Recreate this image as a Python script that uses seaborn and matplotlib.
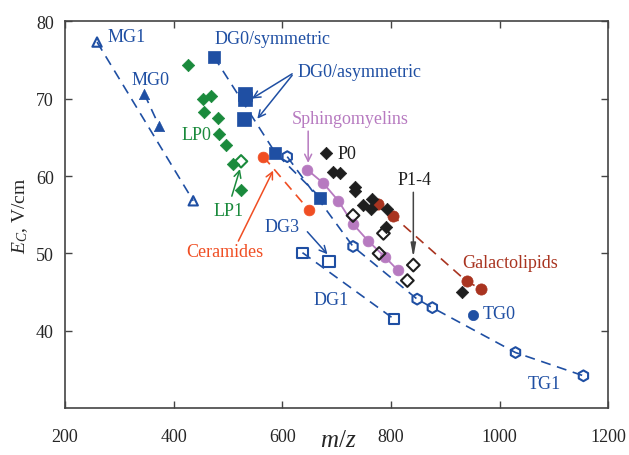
import matplotlib
matplotlib.use("Agg")
import matplotlib.pyplot as plt
import seaborn as sns
import numpy as np

# ---------------- data (m/z, E_C) ----------------
mg1_x = [259, 436]
mg1_y = [77.3, 56.8]
mg0_x = [346, 373]
mg0_y = [70.6, 66.5]
lp0_x = [427, 454, 469, 456, 482, 484, 497, 509, 524]
lp0_y = [74.3, 70.0, 70.3, 68.3, 67.5, 65.4, 64.0, 61.6, 58.2]
lp1_x = [524]
lp1_y = [61.9]
dg0sym_x = [474]
dg0sym_y = [75.4]
dg0asym_x = [531, 531, 530]
dg0asym_y = [70.6, 70.0, 67.4]
dg0_x = [587, 670]
dg0_y = [63.0, 57.2]
dg0line_x = [474, 587, 670]
dg0line_y = [75.4, 63.0, 57.2]
tg1_x = [609, 730, 848, 876, 1029, 1154]
tg1_y = [62.5, 50.9, 44.1, 43.0, 37.2, 34.2]
tg0_x = [950]
tg0_y = [42.1]
dg1_x = [637, 806]
dg1_y = [50.1, 41.5]
dg3_x = [686]
dg3_y = [49.0]
cer_x = [565, 649]
cer_y = [62.5, 55.6]
sph_x = [646, 675, 703, 730, 758, 788, 813]
sph_y = [60.8, 59.1, 56.8, 53.8, 51.6, 49.6, 47.8]
gal_x = [776, 804, 939, 966]
gal_y = [56.4, 54.8, 46.4, 45.4]
p0_x = [681, 694, 706, 734, 734, 749, 765, 764, 793, 791, 931]
p0_y = [63.0, 60.5, 60.4, 58.6, 58.1, 56.3, 57.0, 55.8, 55.8, 53.4, 45.0]
p14_x = [730, 786, 778, 841, 830]
p14_y = [54.9, 52.6, 50.0, 48.5, 46.5]

x_ticks = [200, 400, 600, 800, 1000, 1200]
y_ticks = [40, 50, 60, 70, 80]

BLUE = "#1f4fa3"
GREEN = "#1a8a3c"
ORANGE = "#f04e23"
PURPLE = "#b77ac0"
DRED = "#a93420"
BLACK = "#1e1e1e"

sns.set_style("ticks")
plt.rcParams["font.family"] = ["Liberation Serif", "DejaVu Serif"]
plt.rcParams["mathtext.fontset"] = "custom"
plt.rcParams["mathtext.rm"] = "Liberation Serif"
plt.rcParams["mathtext.it"] = "Liberation Serif:italic"

fig = plt.figure(figsize=(6.29, 4.56), dpi=100)
ax = fig.add_axes([0.1033, 0.1024, 0.864, 0.849])


def dline(x, y, c, ls=(0, (6, 4)), lw=1.2):
    sns.lineplot(x=x, y=y, sort=False, color=c, lw=lw, ax=ax, zorder=3,
                 estimator=None, linestyle="-")
    ax.lines[-1].set_linestyle(ls)


def pts(x, y, m, c, s, filled=True, lw=1.5):
    if filled:
        sns.scatterplot(x=x, y=y, marker=m, s=s, color=c, edgecolor=c,
                        linewidth=0.5, ax=ax, zorder=4)
    else:
        sns.scatterplot(x=x, y=y, marker=m, s=s, color=c, facecolor="none",
                        edgecolor=c, linewidth=lw, ax=ax, zorder=4)


# lines
dline(mg1_x, mg1_y, BLUE)
dline(mg0_x, mg0_y, BLUE)
dline(dg0line_x, dg0line_y, BLUE)
dline(tg1_x, tg1_y, BLUE)
dline(dg1_x, dg1_y, BLUE)
dline(cer_x, cer_y, ORANGE)
dline(sph_x, sph_y, PURPLE, ls="-", lw=1.3)
dline(gal_x, gal_y, DRED)

# markers
pts(mg1_x, mg1_y, "^", BLUE, 45, filled=False)
pts(mg0_x, mg0_y, "^", BLUE, 55)
pts(lp0_x, lp0_y, "D", GREEN, 40)
pts(lp1_x, lp1_y, "D", GREEN, 40, filled=False)
pts(dg0sym_x, dg0sym_y, "s", BLUE, 75)
pts(dg0asym_x, dg0asym_y, "s", BLUE, 95)
pts(dg0_x, dg0_y, "s", BLUE, 65)
pts(tg1_x, tg1_y, "h", BLUE, 60, filled=False)
pts(tg0_x, tg0_y, "o", BLUE, 55)
pts(dg1_x, dg1_y, "s", BLUE, 55, filled=False)
pts(dg3_x, dg3_y, "s", BLUE, 65, filled=False)
pts(cer_x, cer_y, "o", ORANGE, 60)
pts(sph_x, sph_y, "o", PURPLE, 60)
pts(gal_x, gal_y, "o", DRED, 65)
pts(p0_x, p0_y, "D", BLACK, 40)
pts(p14_x, p14_y, "D", BLACK, 42, filled=False)

# labels
fs = 13
def lab(x, y, t, c):
    ax.text(x, y, t, color=c, fontsize=fs, ha="left", va="center", zorder=6)

lab(279, 78.0, "MG1", BLUE)
lab(323, 72.5, "MG0", BLUE)
lab(476, 77.7, "DG0/symmetric", BLUE)
lab(627, 73.5, "DG0/asymmetric", BLUE)
lab(618, 67.4, "Sphingomyelins", PURPLE)
lab(701, 62.9, "P0", BLACK)
lab(811, 59.6, "P1-4", BLACK)
lab(415, 65.4, "LP0", GREEN)
lab(474, 55.6, "LP1", GREEN)
lab(423, 50.2, "Ceramides", ORANGE)
lab(568, 53.5, "DG3", BLUE)
lab(657, 44.1, "DG1", BLUE)
lab(968, 42.2, "TG0", BLUE)
lab(1051, 33.2, "TG1", BLUE)
lab(931, 48.8, "Galactolipids", DRED)

# arrows
def arr(x0, y0, x1, y1, c, style="->,head_length=0.5,head_width=0.25", lw=1.1):
    ax.annotate("", xy=(x1, y1), xytext=(x0, y0),
                arrowprops=dict(arrowstyle=style, color=c, lw=lw,
                                shrinkA=0, shrinkB=0), zorder=6)

arr(618, 73.2, 544, 70.0, BLUE)
arr(618, 73.0, 554, 67.4, BLUE)
arr(647.5, 65.8, 647.5, 61.7, PURPLE)
arr(841, 57.9, 841, 49.5, "#444444", style="-|>,head_length=0.8,head_width=0.15")
arr(507, 57.4, 522, 60.9, GREEN)
arr(519, 51.6, 583, 60.7, ORANGE)
arr(646, 52.8, 683, 49.9, BLUE)

ax.set_xlim(200, 1200)
ax.set_ylim(30, 80)
ax.set_xticks(x_ticks)
ax.set_yticks(y_ticks)
ax.tick_params(direction="in", top=True, right=True, length=5, width=1.0,
               labelsize=13, color="#444444", pad=8)
ax.tick_params(axis="x", pad=14)
for sp in ax.spines.values():
    sp.set_linewidth(1.2)
    sp.set_color("#444444")
    sp.set_visible(True)

ax.set_xlabel("$m/z$", fontsize=18)
ax.xaxis.set_label_coords(0.503, -0.083)
ax.xaxis.label.set_va("center")
ax.set_ylabel("$E_C$, V/cm", fontsize=14, labelpad=4)

fig.savefig("out.png", dpi=100)
